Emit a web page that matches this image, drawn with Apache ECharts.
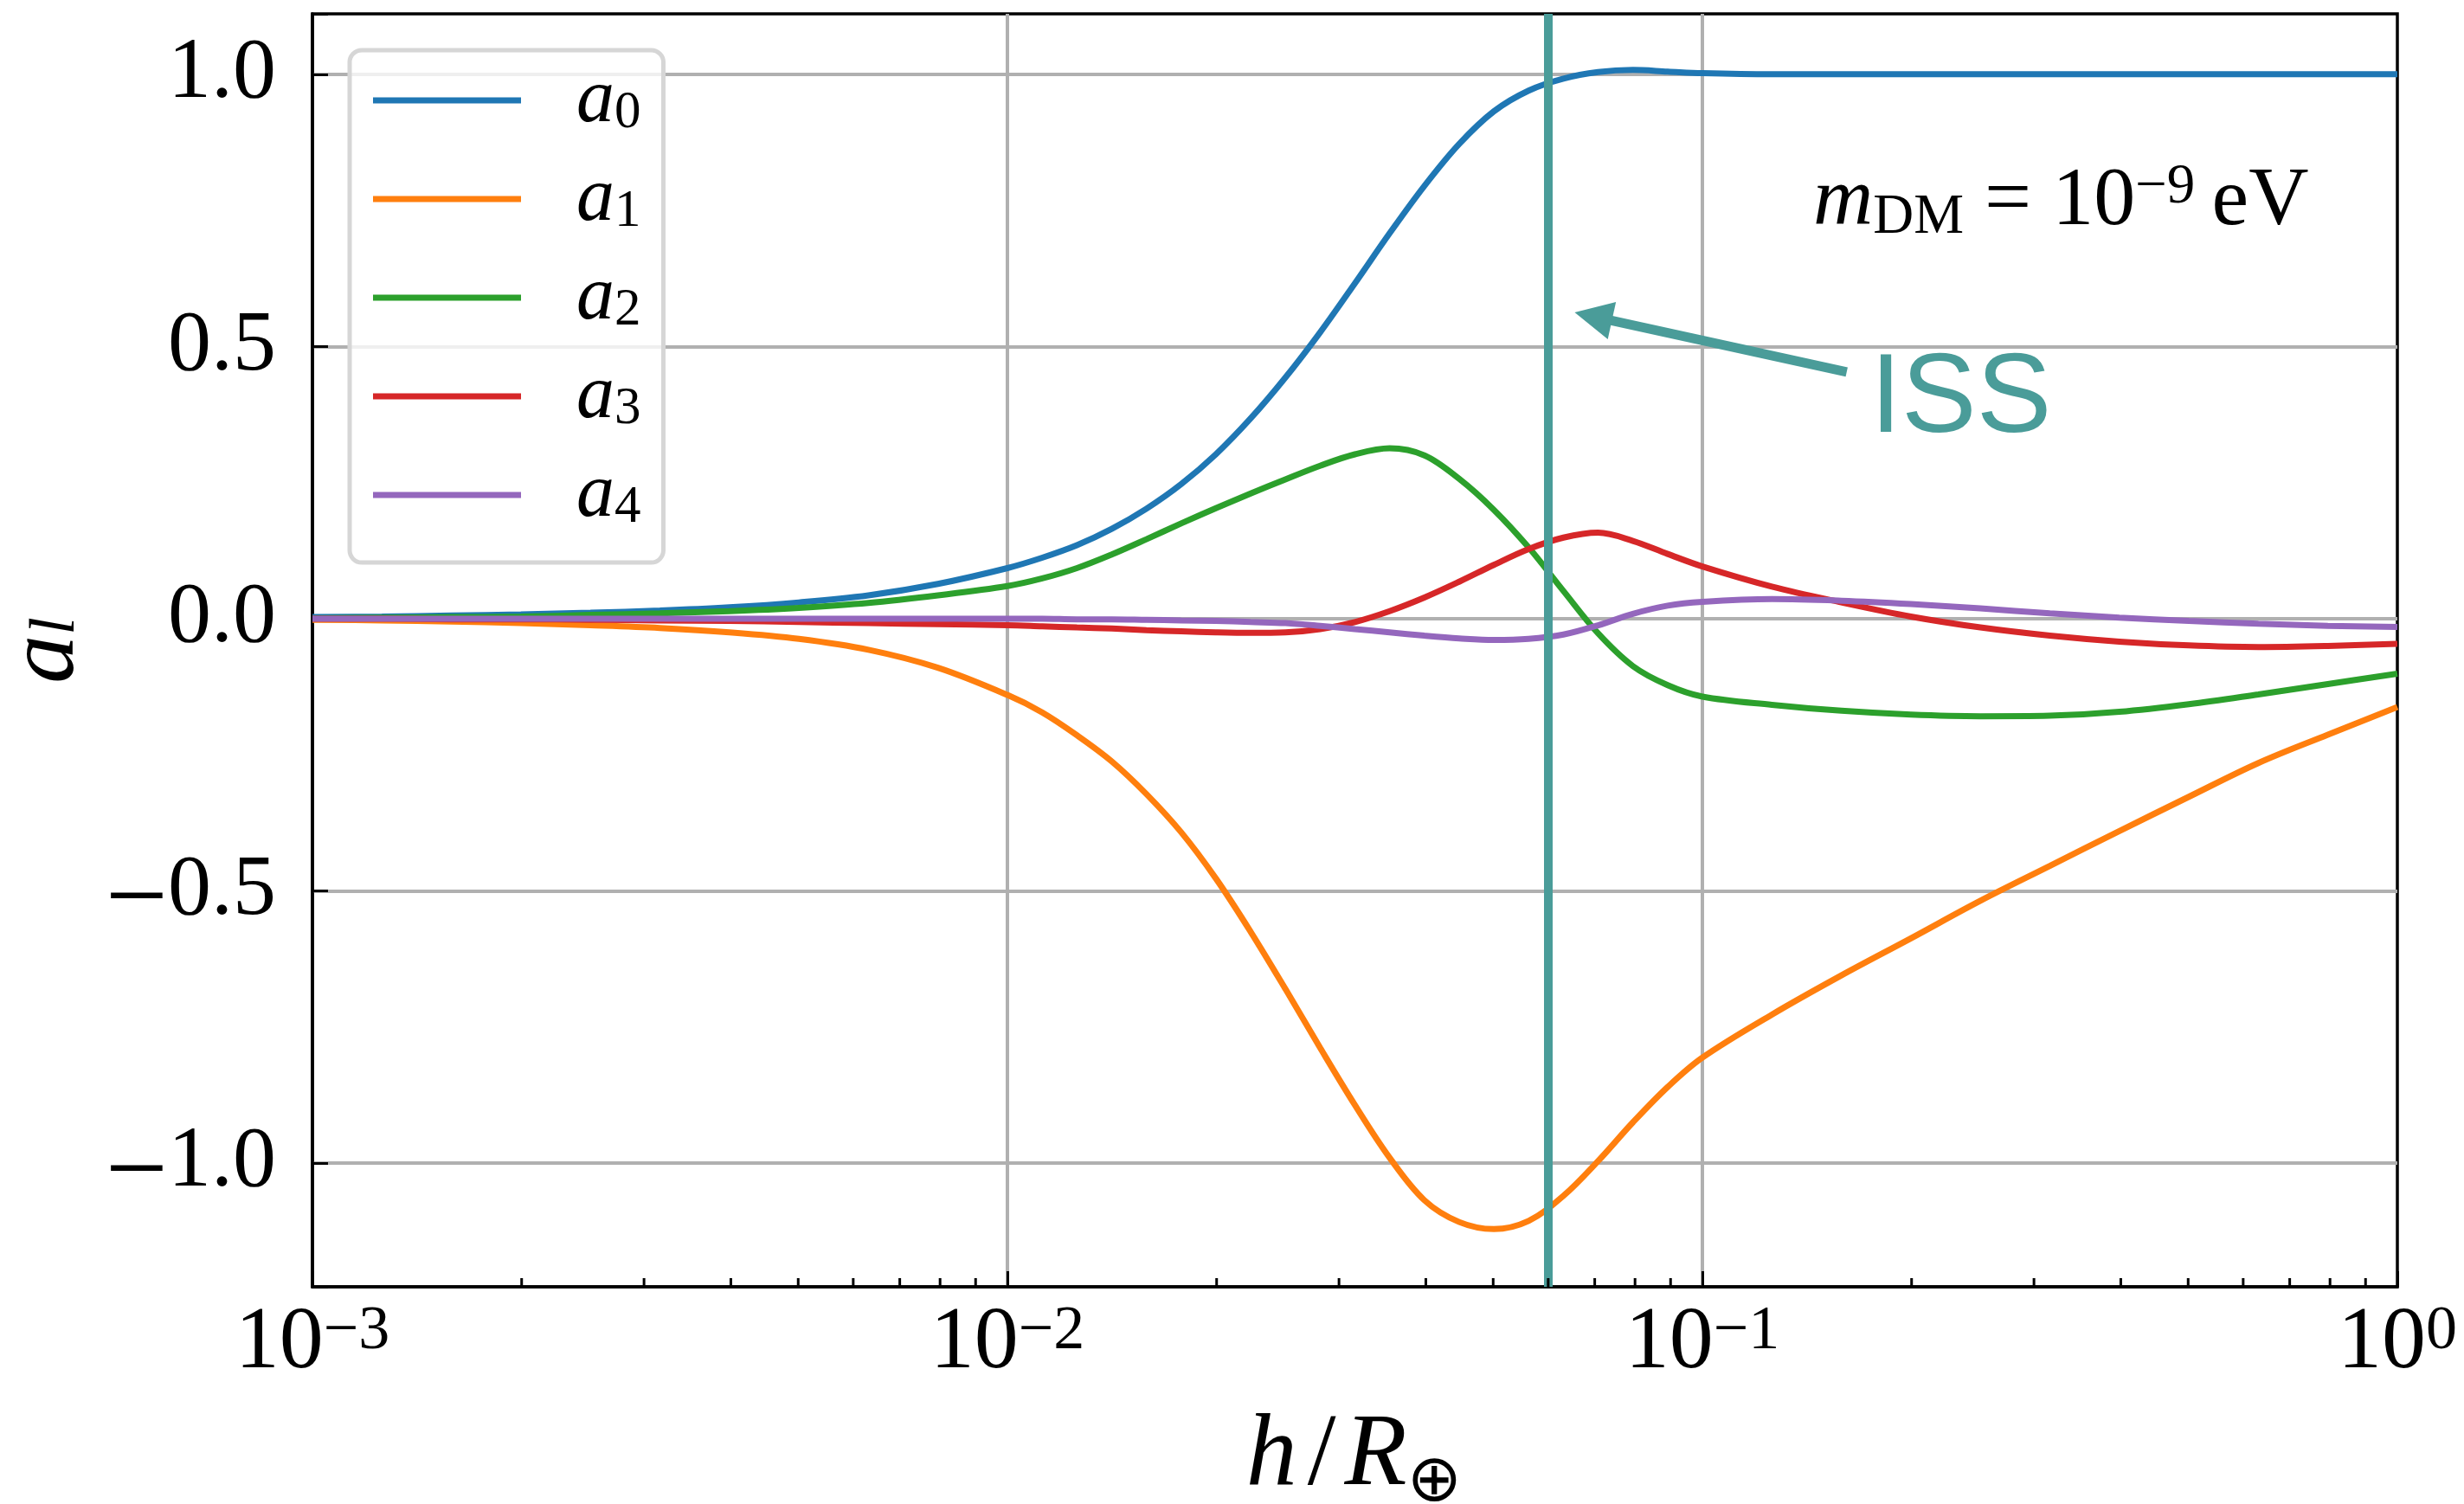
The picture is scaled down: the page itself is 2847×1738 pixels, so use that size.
<!DOCTYPE html>
<html>
<head>
<meta charset="utf-8">
<script src="https://cdn.jsdelivr.net/npm/echarts@6/dist/echarts.min.js"></script>
<style>html,body{margin:0;padding:0;background:#fff}#c{width:2847px;height:1738px}</style>
</head>
<body>
<div id="c"></div>
<script>
// ---------------- data ----------------
const hValues = [0.001, 0.001259, 0.001585, 0.001995, 0.002512, 0.003162, 0.003981, 0.005012, 0.00631, 0.007943,
  0.01, 0.01122, 0.01259, 0.01413, 0.01585, 0.01778, 0.01995, 0.02239, 0.02512, 0.02818,
  0.03162, 0.03548, 0.03981, 0.04467, 0.05012, 0.05623, 0.0631, 0.07079, 0.07943, 0.08913,
  0.1, 0.1259, 0.1585, 0.1995, 0.2512, 0.3162, 0.3981, 0.5012, 0.631, 0.7943, 1.0];
const a0 = [0.003, 0.004, 0.006, 0.008, 0.011, 0.015, 0.021, 0.030, 0.043, 0.064,
  0.093, 0.112, 0.135, 0.165, 0.202, 0.247, 0.302, 0.368, 0.443, 0.526,
  0.616, 0.708, 0.795, 0.872, 0.932, 0.970, 0.992, 1.004, 1.008, 1.005,
  1.002, 1.0, 1.0, 1.0, 1.0, 1.0, 1.0, 1.0, 1.0, 1.0, 1.0];
const a1 = [-0.002, -0.003, -0.005, -0.008, -0.012, -0.017, -0.025, -0.037, -0.057, -0.090,
  -0.140, -0.172, -0.214, -0.262, -0.322, -0.392, -0.477, -0.575, -0.680, -0.788,
  -0.893, -0.990, -1.068, -1.108, -1.121, -1.106, -1.060, -0.996, -0.925, -0.860,
  -0.806, -0.727, -0.655, -0.587, -0.518, -0.454, -0.390, -0.327, -0.265, -0.213, -0.162];
const a2 = [0.001, 0.002, 0.003, 0.004, 0.007, 0.010, 0.014, 0.020, 0.029, 0.043,
  0.060, 0.074, 0.093, 0.118, 0.146, 0.175, 0.203, 0.230, 0.256, 0.281,
  0.302, 0.313, 0.300, 0.257, 0.200, 0.131, 0.051, -0.027, -0.087, -0.122,
  -0.143, -0.158, -0.169, -0.176, -0.179, -0.178, -0.171, -0.157, -0.139, -0.120, -0.101];
const a3 = [0.0, 0.0, -0.001, -0.001, -0.002, -0.003, -0.004, -0.006, -0.008, -0.010,
  -0.012, -0.014, -0.016, -0.018, -0.021, -0.023, -0.025, -0.026, -0.025, -0.019,
  -0.006, 0.014, 0.039, 0.068, 0.099, 0.128, 0.149, 0.158, 0.143, 0.119,
  0.096, 0.059, 0.030, 0.004, -0.016, -0.031, -0.042, -0.049, -0.052, -0.050, -0.046];
const a4 = [0.0, 0.0, 0.0, 0.0, 0.0, 0.0, 0.0, 0.0, 0.0, 0.0,
  0.0, 0.0, -0.001, -0.001, -0.002, -0.003, -0.004, -0.006, -0.008, -0.013,
  -0.019, -0.025, -0.031, -0.036, -0.039, -0.037, -0.029, -0.012, 0.009, 0.024,
  0.031, 0.036, 0.033, 0.027, 0.019, 0.010, 0.002, -0.004, -0.009, -0.013, -0.015];

const seriesNames = ['a0', 'a1', 'a2', 'a3', 'a4'];
const seriesSubscripts = ['0', '1', '2', '3', '4'];
const curves = [a0, a1, a2, a3, a4];

const xTickValues = [0.001, 0.01, 0.1, 1];
const xTickExponents = ['\u22123', '\u22122', '\u22121', '0'];
const xMinorTickValues = [0.002, 0.003, 0.004, 0.005, 0.006, 0.007, 0.008, 0.009,
  0.02, 0.03, 0.04, 0.05, 0.06, 0.07, 0.08, 0.09,
  0.2, 0.3, 0.4, 0.5, 0.6, 0.7, 0.8, 0.9];
const yTickValues = [-1, -0.5, 0, 0.5, 1];
const yTickSigns = ['\u2212', '\u2212', '', '', ''];
const yTickLabels = ['1.0', '0.5', '0.0', '0.5', '1.0'];

const issH = 0.0609;
const issArrowTail = [0.1613, 0.453];
const issArrowTip = [0.0655, 0.5627];

// ---------------- style ----------------
const colors = ['#1f77b4', '#ff7f0e', '#2ca02c', '#d62728', '#9467bd'];
const teal = '#4a9c99';
const serif = "'Liberation Serif', 'DejaVu Serif', serif";
const sans = "'Liberation Sans', Arial, sans-serif";
const yMin = -1.227, yMax = 1.111;

const chart = echarts.init(document.getElementById('c'), null, {renderer: 'canvas', width: 2847, height: 1738});

const lineSeries = seriesNames.map((n, i) => ({
  name: n,
  type: 'line',
  data: hValues.map((h, k) => [h, curves[i][k]]),
  symbol: 'none',
  showSymbol: false,
  smooth: 0.35,
  lineStyle: {width: 7, color: colors[i]},
  itemStyle: {color: colors[i]},
  z: 2
}));

const option = {
  animation: false,
  backgroundColor: '#fff',
  grid: {left: 361, top: 16, width: 2409, height: 1471, show: true, borderColor: '#000', borderWidth: 3.5,
    backgroundColor: 'transparent', containLabel: false, outerBoundsMode: 'none'},
  xAxis: {
    type: 'log', logBase: 10, min: 0.001, max: 1,
    axisLine: {show: true, onZero: false, lineStyle: {color: '#000', width: 3.5}},
    axisTick: {show: true, inside: true, length: 18, lineStyle: {color: '#000', width: 3}},
    minorTick: {show: false},
    splitLine: {show: true, showMinLine: false, showMaxLine: false, lineStyle: {color: '#b0b0b0', width: 4}},
    axisLabel: {
      margin: 16,
      formatter: v => {
        const i = xTickValues.findIndex(t => Math.abs(Math.log10(t) - Math.log10(v)) < 1e-6);
        return i < 0 ? '' : '{b|10}{s|' + xTickExponents[i] + '}';
      },
      rich: {
        b: {fontFamily: serif, fontSize: 102, lineHeight: 100, color: '#000'},
        s: {fontFamily: serif, fontSize: 72, lineHeight: 46, verticalAlign: 'top', color: '#000'}
      }
    },
    name: '{h|h}{sl|/}{R|R}{o|\u2295}{g| }',
    nameLocation: 'middle',
    nameGap: 138,
    nameTextStyle: {
      rich: {
        h: {fontFamily: serif, fontStyle: 'italic', fontSize: 118, lineHeight: 100, verticalAlign: 'top', color: '#000'},
        sl: {fontFamily: serif, fontSize: 118, lineHeight: 100, verticalAlign: 'top', color: '#000', padding: [0, 10, 0, 12]},
        R: {fontFamily: serif, fontStyle: 'italic', fontSize: 118, lineHeight: 100, verticalAlign: 'top', color: '#000'},
        o: {fontFamily: "'DejaVu Sans', sans-serif", fontSize: 76, lineHeight: 46, verticalAlign: 'bottom', color: '#000'},
        g: {fontFamily: serif, fontSize: 8, lineHeight: 127, color: '#000'}
      }
    }
  },
  yAxis: {
    type: 'value', min: yMin, max: yMax, splitNumber: 5,
    axisLine: {show: true, onZero: false, lineStyle: {color: '#000', width: 3.5}},
    axisTick: {show: true, inside: true, length: 18, lineStyle: {color: '#000', width: 3}},
    splitLine: {show: true, showMinLine: false, showMaxLine: false, lineStyle: {color: '#b0b0b0', width: 4}},
    axisLabel: {
      margin: 42,
      formatter: v => {
        const i = yTickValues.findIndex(t => Math.abs(t - v) < 1e-6);
        if (i < 0) return '';
        return (yTickSigns[i] ? '{m|' + yTickSigns[i] + '}' : '') + '{n|' + yTickLabels[i] + '}';
      },
      rich: {
        m: {fontFamily: serif, fontSize: 128, lineHeight: 80, verticalAlign: 'top', color: '#000'},
        n: {fontFamily: serif, fontSize: 100, lineHeight: 100, color: '#000'}
      }
    },
    name: '{a|a}{l|l}',
    nameLocation: 'middle',
    nameRotate: 90,
    nameGap: 230,
    nameTextStyle: {
      rich: {
        a: {fontFamily: serif, fontStyle: 'italic', fontSize: 112, lineHeight: 96, color: '#000'},
        l: {fontFamily: serif, fontStyle: 'italic', fontSize: 74, lineHeight: 48, verticalAlign: 'bottom', color: '#000'}
      }
    }
  },
  legend: {
    data: seriesNames,
    orient: 'vertical',
    left: 404, top: 58,
    itemWidth: 171, itemHeight: 7,
    icon: 'rect',
    itemGap: 26,
    padding: [15, 26, 33, 27],
    backgroundColor: 'rgba(255,255,255,0.8)',
    borderColor: '#d6d6d6', borderWidth: 5, borderRadius: 14,
    selectedMode: false,
    formatter: n => '{a|a}{s|' + seriesSubscripts[seriesNames.indexOf(n)] + '}',
    textStyle: {
      rich: {
        a: {fontFamily: serif, fontStyle: 'italic', fontSize: 88, lineHeight: 90, verticalAlign: 'bottom', color: '#000', padding: [0, 0, 0, 59]},
        s: {fontFamily: serif, fontSize: 61, lineHeight: 53, verticalAlign: 'bottom', color: '#000'}
      }
    }
  },
  title: [
    {
      text: '{m|m}{sub|DM}{t| = 10}{sup|\u22129}{t|\u2009eV}',
      left: 2095, top: 184, padding: 0,
      textStyle: {
        rich: {
          m: {fontFamily: serif, fontStyle: 'italic', fontSize: 96, lineHeight: 100, color: '#000', fontWeight: 'normal'},
          sub: {fontFamily: serif, fontSize: 65, lineHeight: 37, verticalAlign: 'bottom', color: '#000', fontWeight: 'normal'},
          t: {fontFamily: serif, fontSize: 96, lineHeight: 100, color: '#000', fontWeight: 'normal'},
          sup: {fontFamily: serif, fontSize: 65, lineHeight: 50, verticalAlign: 'top', color: '#000', fontWeight: 'normal'}
        }
      }
    },
    {
      text: 'ISS', left: 2161, top: 398, padding: 0,
      textStyle: {fontFamily: sans, fontSize: 130, lineHeight: 130, color: teal, fontWeight: 'normal'}
    }
  ],
  series: lineSeries.concat([
    {
      name: 'ISS', type: 'line', data: [[issH, 0]], symbol: 'none', showSymbol: false,
      lineStyle: {opacity: 0}, z: 5,
      markLine: {
        silent: true, symbol: 'none', label: {show: false},
        lineStyle: {color: teal, width: 10, type: 'solid'},
        data: [{xAxis: issH}]
      }
    },
    {
      name: 'minorTicks', type: 'custom', silent: true, z: 6, clip: false,
      data: xMinorTickValues.map(v => [v, yMin]),
      encode: {x: 0, y: 1},
      renderItem: (params, api) => {
        const p = api.coord([api.value(0), api.value(1)]);
        return {type: 'line', shape: {x1: p[0], y1: p[1], x2: p[0], y2: p[1] - 10}, style: {stroke: '#000', lineWidth: 3}};
      }
    }
  ])
};
chart.setOption(option);

// ISS arrow annotation, placed through the chart's own scales
const tail = chart.convertToPixel({gridIndex: 0}, issArrowTail);
const tip = chart.convertToPixel({gridIndex: 0}, issArrowTip);
const dx = tip[0] - tail[0], dy = tip[1] - tail[1];
const len = Math.hypot(dx, dy);
const ux = dx / len, uy = dy / len;
const headLen = 44, headHalf = 22;
const bx = tip[0] - ux * headLen, by = tip[1] - uy * headLen;
chart.setOption({
  graphic: [
    {type: 'line', z: 10, shape: {x1: tail[0], y1: tail[1], x2: bx + ux * 4, y2: by + uy * 4}, style: {stroke: teal, lineWidth: 11, lineCap: 'butt'}},
    {type: 'polygon', z: 10, shape: {points: [[tip[0], tip[1]], [bx - uy * headHalf, by + ux * headHalf], [bx + uy * headHalf, by - ux * headHalf]]}, style: {fill: teal}}
  ]
});
</script>
</body>
</html>
